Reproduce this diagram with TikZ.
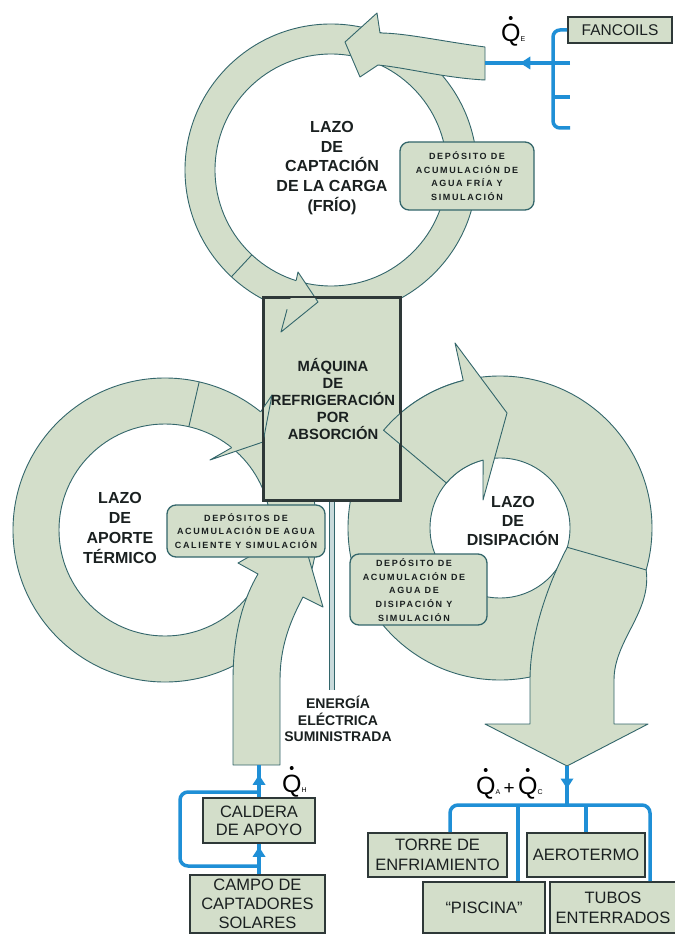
\documentclass[tikz,border=0pt]{standalone}
\usepackage{fontspec}
\setmainfont{Liberation Sans}
\newfontfamily\trackfont{Liberation Sans}[LetterSpace=18]
\usetikzlibrary{calc,decorations.markings,arrows.meta}
\definecolor{sage}{HTML}{D3DECA}
\definecolor{edgeteal}{HTML}{33666B}
\definecolor{pipe}{HTML}{1F8FD6}
\definecolor{boxedge}{HTML}{2E3838}
\definecolor{txt}{HTML}{1A2020}
\definecolor{elecfill}{HTML}{C9DADB}
\begin{document}
\begin{tikzpicture}[x=1pt,y=-1pt,
  ringfill/.style={fill=sage, even odd rule},
  ringline/.style={draw=edgeteal, line width=0.9pt, line join=round},
  band/.style={fill=sage, draw=edgeteal, line width=0.9pt, line join=round},
  unit/.style={draw=boxedge, fill=sage, line width=1.6pt, inner sep=0pt, align=center, text=txt, font=\fontsize{16.5}{19}\selectfont},
  depo/.style={draw=edgeteal, fill=sage, line width=1.3pt, rounded corners=9pt, inner sep=0pt, align=center, text=txt, font=\trackfont\bfseries\fontsize{9}{13.7}\selectfont},
  lbl/.style={align=center, text=txt, inner sep=0pt, font=\bfseries\fontsize{16}{19.7}\selectfont},
  pipeline/.style={draw=pipe, line width=3.5pt},
  midarrow/.style={postaction={decorate}, decoration={markings, mark=at position #1 with {\fill[pipe] (3pt,0pt) -- (-7pt,6.5pt) -- (-7pt,-6.5pt) -- cycle;}}},
  qlbl/.style={anchor=base west, inner sep=0pt, text=black, font=\fontsize{25}{25}\selectfont},
  qdot/.style={fill=black},
]
\fill[white] (0,0) rectangle (674,936);
\useasboundingbox (0,0) rectangle (674,936);

% centres of the three loops
\coordinate (cT) at (331,170);
\coordinate (cL) at (165,530);
\coordinate (cR) at (500,528);

% ---------- right loop (disipacion) ----------
\path[ringfill] (cR) circle[radius=152pt] (cR) circle[radius=70pt];
\draw[ringline] (cR) circle[radius=152pt];
\draw[ringline] (cR) circle[radius=70pt];
\draw[band] ($(cR)+(-16:70pt)$) -- ($(cR)+(-16:152pt)$)
   .. controls (652,612) and (614,640) .. (614,680) -- (614,724) -- (648,724)
   -- (567,766) -- (485,724) -- (530,724) -- (530,680)
   .. controls (530,632) and (550,580) .. cycle;
\coordinate (dtip) at (567,766);

% ---------- left loop (aporte termico) ----------
\path[ringfill] (cL) circle[radius=152pt] (cL) circle[radius=106pt];
\draw[ringline] (cL) circle[radius=152pt];
\draw[ringline] (cL) circle[radius=106pt];
\draw[ringline] ($(cL)+(77:106pt)$) -- ($(cL)+(77:152pt)$);
\draw[band] (233,765) -- (233,680) .. controls (233,630) and (245,596) .. (258,574)
   -- (238,563) -- (300,528) -- (323,607) -- (303,597)
   .. controls (288,625) and (280,650) .. (280,680) -- (280,765) -- cycle;
\coordinate (bandHbot) at (259,765);

% ---------- top loop (captacion) ----------
\path[ringfill] (cT) circle[radius=146pt] (cT) circle[radius=116pt];
\draw[ringline] (cT) circle[radius=146pt];
\draw[ringline] (cT) circle[radius=116pt];
\draw[ringline] ($(cT)+(227:116pt)$) -- ($(cT)+(227:146pt)$);
\draw[band] (485,47) .. controls (440,41) and (405,33) .. (380,33) -- (377,13)
   -- (345,42) -- (360,77) -- (378,65) .. controls (408,68) and (445,78) .. (485,80) -- cycle;
\coordinate (bandE) at (485,63);

% ---------- electric supply line ----------
\coordinate (elecEnd) at (331.5,690);

% ---------- absorption machine ----------
\node[draw=boxedge, fill=sage, line width=1.6pt, minimum width=136pt, minimum height=202pt, inner sep=0pt] (maq) at (332,399) {};
\draw[draw=edgeteal, line width=1pt, double=elecfill, double distance=4.5pt] (maq.south) -- (maq.south |- elecEnd);

% arrowheads that lie over the machine
\coordinate (Lo) at ($(cL)+(51:152pt)$);
\coordinate (Li) at ($(cL)+(51:106pt)$);
\fill[sage] (Lo) -- (272,395) -- (263,442) -- (210,460) -- (Li) -- cycle;
\draw[ringline] (Lo) -- (272,395) -- (263,442) -- (210,460) -- (Li);

\coordinate (To) at ($(cT)+(252.5:146pt)$);
\coordinate (Ti) at ($(cT)+(252.5:116pt)$);
\fill[sage] (Ti) -- (298,272) -- (318,302) -- (281,332) -- (To) -- cycle;
\draw[ringline] (Ti) -- (298,272) -- (318,302) -- (281,332) -- (To);

\coordinate (Ro104) at ($(cR)+(104:152pt)$);
\coordinate (Ri140) at ($(cR)+(140:70pt)$);
\draw[band] (Ro104) arc[start angle=104, end angle=140, radius=152pt] -- (Ri140)
   arc[start angle=140, end angle=104, radius=70pt] -- (483,500) -- (507,413) -- (455,343) -- cycle;

\draw[draw=boxedge, line width=1.6pt] (maq.north west) rectangle (maq.south east);

% ---------- storage tanks ----------
\node[depo, minimum width=134pt, minimum height=68pt] (depT) at (467,176) {DEPÓSITO DE\\ACUMULACIÓN DE\\AGUA FRÍA Y\\SIMULACIÓN};
\node[depo, minimum width=158pt, minimum height=52pt] (depL) at (246,531) {DEPÓSITOS DE\\ACUMULACIÓN DE AGUA\\CALIENTE Y SIMULACIÓN};
\node[depo, minimum width=137pt, minimum height=71pt] (depR) at (418.5,589.5) {};
\node[depo, draw=none, fill=none] (depRt) at (414,590) {DEPÓSITO DE\\ACUMULACIÓN DE\\AGUA DE\\DISIPACIÓN Y\\SIMULACIÓN};

% ---------- loop labels ----------
\node[lbl] (lzT) at (332,168) {LAZO\\DE\\CAPTACIÓN\\DE LA CARGA\\(FRÍO)};
\node[lbl] (lzL) at (120,528) {LAZO\\DE\\APORTE\\TÉRMICO};
\node[lbl, font=\bfseries\fontsize{16}{19}\selectfont] (lzR) at (513,521) {LAZO\\DE\\DISIPACIÓN};
\node[lbl, font=\bfseries\fontsize{14.8}{17}\selectfont] (maqlbl) at (333,399) {MÁQUINA\\DE\\REFRIGERACIÓN\\POR\\ABSORCIÓN};
\node[lbl, font=\bfseries\fontsize{14}{16.5}\selectfont] (energia) at (338,719) {ENERGÍA\\ELÉCTRICA\\SUMINISTRADA};

% ---------- equipment boxes ----------
\node[unit, font=\fontsize{15.5}{17}\selectfont, minimum width=104pt, minimum height=26pt] (fan) at (620,30) {FANCOILS};
\node[unit, font=\fontsize{16.5}{18}\selectfont, minimum width=112pt, minimum height=45pt] (cal) at (259,820.5) {CALDERA\\DE APOYO};
\node[unit, minimum width=135pt, minimum height=58pt] (campo) at (257.5,904) {CAMPO DE\\CAPTADORES\\SOLARES};
\node[unit, font=\fontsize{16.5}{20}\selectfont, minimum width=139pt, minimum height=44pt] (torre) at (437.5,855) {TORRE DE\\ENFRIAMIENTO};
\node[unit, minimum width=118pt, minimum height=44pt] (aero) at (586,855) {AEROTERMO};
\node[unit, minimum width=122pt, minimum height=51pt] (pisc) at (484,907.5) {“PISCINA”};
\node[unit, font=\fontsize{16.5}{20}\selectfont, minimum width=126pt, minimum height=51pt] (tubos) at (613,907.5) {TUBOS\\ENTERRADOS};

% ---------- pipes ----------
\coordinate (fanM) at (570,63);
\draw[pipeline, rounded corners=7pt] (fan.west) -- (553,30) -- (553,128) -- (570,128);
\draw[pipeline] (553,97) -- (570,97);
\draw[pipeline, midarrow=0.55] (fanM) -- (bandE);

\draw[pipeline, midarrow=0.6] (cal.north) -- (cal.north |- bandHbot);
\draw[pipeline, midarrow=0.8] (campo.north -| cal.north) -- (cal.south);
\coordinate (bypLo) at (259,866);
\coordinate (bypHi) at (259,792);
\draw[pipeline, rounded corners=8pt] (bypLo) -- (180,866) -- (180,792) -- (bypHi);

\coordinate (bus) at (567,805);
\draw[pipeline, midarrow=0.5] (dtip) -- (bus);
\draw[pipeline, rounded corners=8pt] ([xshift=12.5pt]torre.north) |- (bus) -| ([xshift=37pt]tubos.north);
\draw[pipeline] ([xshift=34pt]pisc.north) -- ([xshift=34pt]pisc.north |- bus);
\draw[pipeline] (aero.north) -- (aero.north |- bus);

% ---------- heat flow labels (Q with a dot above) ----------
\node[qlbl] (qE) at (501,42) {Q{\fontsize{7}{7}\selectfont E}};
\fill[qdot] ([xshift=9.7pt,yshift=24pt]qE.base west) circle[radius=2pt];
\node[qlbl] (qH) at (282,792) {Q{\fontsize{7}{7}\selectfont H}};
\fill[qdot] ([xshift=9.7pt,yshift=24pt]qH.base west) circle[radius=2pt];
\node[qlbl] (qA) at (476,794) {Q{\fontsize{7}{7}\selectfont A}};
\node[qlbl, font=\fontsize{19}{19}\selectfont] (qplus) at ([xshift=3pt]qA.base east) {+};
\node[qlbl] (qC) at ([xshift=3pt]qplus.base east) {Q{\fontsize{7}{7}\selectfont C}};
\fill[qdot] ([xshift=9.7pt,yshift=24pt]qA.base west) circle[radius=2pt];
\fill[qdot] ([xshift=9.7pt,yshift=24pt]qC.base west) circle[radius=2pt];
\end{tikzpicture}
\end{document}
